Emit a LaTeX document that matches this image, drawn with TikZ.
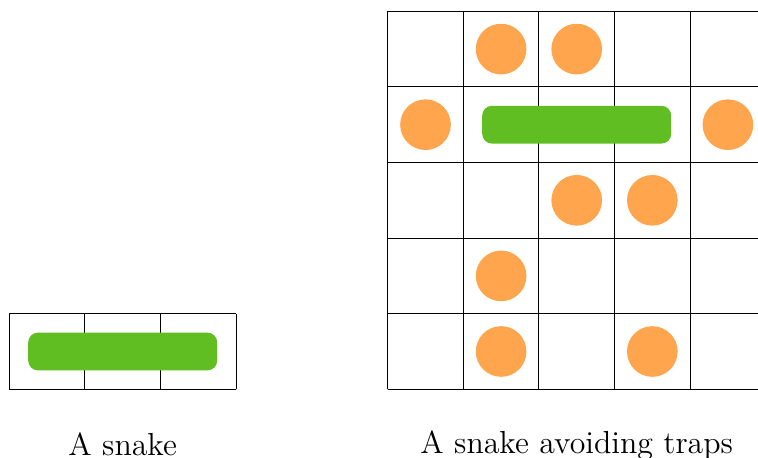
\documentclass[tikz,border=0pt]{standalone}
\definecolor{snakecol}{RGB}{96,190,34}
\definecolor{trapcol}{RGB}{255,165,77}
\begin{document}
\begin{tikzpicture}[x=1cm,y=1cm,
  board/.style={draw=black, line width=0.4pt},
  trap/.style={circle, fill=trapcol, minimum size=0.67cm, inner sep=0pt},
  snakebody/.style={rectangle, fill=snakecol, rounded corners=0.13cm,
    minimum width=2.5cm, minimum height=0.5cm, inner sep=0pt},
  caption/.style={anchor=base, inner sep=0pt, font=\fontsize{12}{14.5}\selectfont}]
\useasboundingbox (0,0) rectangle (10.026,6.045);

% a snake on a single row of three cells
\begin{scope}[shift={(0.123,0.8955)}]
  \draw[board] (0,0) grid (3,1);
  \node[snakebody] (snakeA) at (1.5,0.5) {};
\end{scope}
\node[caption] (capA) at (1.623,0.014) {A snake};

% a snake on a 5x5 board with traps
\begin{scope}[shift={(5.128,0.8955)}]
  \draw[board] (0,0) grid (5,5);
  \node[trap] (t01) at (1.5,4.5) {};
  \node[trap] (t02) at (2.5,4.5) {};
  \node[trap] (t10) at (0.5,3.5) {};
  \node[trap] (t14) at (4.5,3.5) {};
  \node[trap] (t22) at (2.5,2.5) {};
  \node[trap] (t23) at (3.5,2.5) {};
  \node[trap] (t31) at (1.5,1.5) {};
  \node[trap] (t41) at (1.5,0.5) {};
  \node[trap] (t43) at (3.5,0.5) {};
  \node[snakebody] (snakeB) at (2.5,3.5) {};
\end{scope}
\node[caption] (capB) at (7.628,0.049) {A snake avoiding traps};
\end{tikzpicture}
\end{document}
